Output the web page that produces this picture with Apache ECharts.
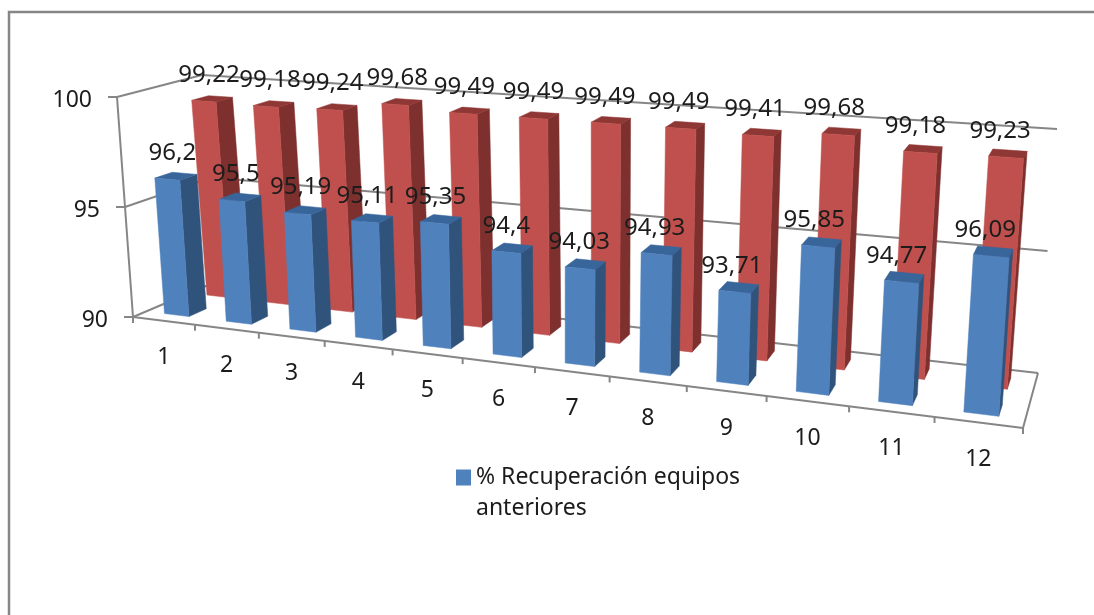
<!DOCTYPE html>
<html>
<head>
<meta charset="utf-8">
<style>html,body{margin:0;padding:0;background:#fff}#chart{width:1094px;height:615px}</style>
<script src="https://cdn.jsdelivr.net/npm/echarts@6/dist/echarts.min.js"></script>
</head>
<body>
<div id="chart"></div>
<script>
// Chart data
const categories = ['1','2','3','4','5','6','7','8','9','10','11','12'];
const recoveryPrevious = [96.2,95.5,95.19,95.11,95.35,94.4,94.03,94.93,93.71,95.85,94.77,96.09];
const recoveryCurrent = [99.22,99.18,99.24,99.68,99.49,99.49,99.49,99.49,99.41,99.68,99.18,99.23];
const valueTicks = [90,95,100];
const legendName = '% Recuperación equipos\nanteriores';

// Corners of the 3D box as seen by the camera
const box = {
  fl:[133,317], fr:[1023,428], bl:[220,280], br:[1038,373],
  tfl:[117,97], tfr:[1041,163], tbl:[202,75], tbr:[1057,129]
};
const COUNT = categories.length;
const FORESHORTEN = -0.0147, UNIT = 61.1;
const lerp = (a,b,t)=>a+(b-a)*t;
const lerp2 = (p,q,t)=>[lerp(p[0],q[0],t),lerp(p[1],q[1],t)];

// Perspective along the category direction, then trilinear across the box.
function project(u, v, w){
  const s = (UNIT*u/(1+FORESHORTEN*u))/(UNIT*COUNT/(1+FORESHORTEN*COUNT));
  const floor = lerp2(lerp2(box.fl,box.fr,s),lerp2(box.bl,box.br,s),w);
  const top = lerp2(lerp2(box.tfl,box.tfr,s),lerp2(box.tbl,box.tbr,s),w);
  return lerp2(floor,top,v);
}

// Scale a data point through the grid's axes into box units.
function toBox(params, api, x, y){
  const sys = params.coordSys;
  const p = api.coord([x,y]);
  return {u:(p[0]-sys.x)/sys.width*COUNT, v:(sys.y+sys.height-p[1])/sys.height};
}

const GRID_LINE = {stroke:'#868686', lineWidth:2, fill:null};
const TEXT_COLOR = '#1c1c1c';
const FONT = '"Noto Sans"';
const seg = (a,b)=>({type:'line',shape:{x1:a[0],y1:a[1],x2:b[0],y2:b[1]},style:GRID_LINE});
const poly = (pts,fill)=>({type:'polygon',shape:{points:pts},style:{fill,stroke:fill,lineWidth:0.5}});

function renderGrid(params, api){
  const v = toBox(params, api, 0, api.value(1)).v;
  const fl = project(0,v,0), bl = project(0,v,1), br = project(COUNT,v,1);
  const children = [seg(fl,bl), seg(bl,br), seg(fl,[fl[0]-9,fl[1]])];
  if (params.dataIndex===0) {
    children.push(seg(project(0,0,0),project(0,1,0)));
    children.push(seg(project(0,0,0),project(COUNT,0,0)));
    children.push(seg(project(COUNT,0,0),project(COUNT,0,1)));
  }
  children.push({type:'text',style:{text:String(api.value(1)),x:fl[0]-25,y:fl[1]+3,
    font:'23px '+FONT,fill:TEXT_COLOR,align:'right',verticalAlign:'middle'}});
  return {type:'group',children};
}

function renderCategory(params, api){
  const b = toBox(params, api, api.value(0), 90);
  const half = api.size([1,0])[0]/params.coordSys.width*COUNT/2;
  const start = project(b.u-half,0,0), mid = project(b.u,0,0);
  const children = [seg(start,[start[0],start[1]+6]),
    {type:'text',style:{text:categories[params.dataIndex],x:mid[0],y:mid[1]+37,
      font:'23px '+FONT,fill:TEXT_COLOR,align:'center',verticalAlign:'middle'}}];
  if (params.dataIndex===COUNT-1) {
    const end = project(b.u+half,0,0);
    children.push(seg(end,[end[0],end[1]+6]));
  }
  return {type:'group',children};
}

// One prism: side, top and front faces plus the value label above it.
function barRenderer(w0, w1, colors){
  return function(params, api){
    const b = toBox(params, api, api.value(0), api.value(1));
    const u0 = b.u-0.2, u1 = b.u+0.2, v = b.v;
    const fbl=project(u0,0,w0), fbr=project(u1,0,w0), bbr=project(u1,0,w1);
    const ftl=project(u0,v,w0), ftr=project(u1,v,w0), btl=project(u0,v,w1), btr=project(u1,v,w1);
    const mid = lerp2(ftl,ftr,0.5);
    const dx = lerp(5.5,-6.5,b.u/COUNT);
    return {type:'group',children:[
      poly([fbr,bbr,btr,ftr],colors.side),
      poly([ftl,ftr,btr,btl],colors.top),
      poly([fbl,fbr,ftr,ftl],colors.front),
      {type:'text',z2:100,style:{text:String(api.value(1)).replace('.',','),x:mid[0]+dx,y:mid[1]-26,
        font:'24px '+FONT,fill:TEXT_COLOR,align:'center',verticalAlign:'middle'}}
    ]};
  };
}

const blue = {front:'#4F81BD',side:'#30537C',top:'#38659A'};
const red = {front:'#C0504D',side:'#7E302E',top:'#8E3734'};

const chart = echarts.init(document.getElementById('chart'),null,{renderer:'canvas'});
chart.setOption({
  animation:false,
  backgroundColor:'#ffffff',
  graphic:[
    {type:'rect',shape:{x:9,y:12,width:1200,height:800},style:{fill:null,stroke:'#868686',lineWidth:2.5},silent:true}
  ],
  legend:{
    data:[legendName],left:451,top:426,icon:'rect',itemWidth:15,itemHeight:16,itemGap:0,
    selectedMode:false,
    // A blank first line keeps the swatch level with the name's first line.
    formatter:name=>' \n'+name,
    textStyle:{fontFamily:'Noto Sans',fontSize:23,color:TEXT_COLOR,lineHeight:31}
  },
  grid:{left:133,top:97,width:890,height:220},
  xAxis:{type:'category',data:categories,show:false},
  yAxis:{type:'value',min:90,max:100,interval:5,show:false},
  series:[
    {type:'custom',name:'grid',silent:true,clip:false,encode:{x:0,y:1},
      data:valueTicks.map(t=>[categories[0],t]),renderItem:renderGrid},
    {type:'custom',name:'categories',silent:true,clip:false,encode:{x:0,y:1},
      data:categories.map(c=>[c,90]),renderItem:renderCategory},
    {type:'custom',name:'% Recuperación equipos actuales',clip:false,encode:{x:0,y:1},
      itemStyle:{color:red.front},
      data:recoveryCurrent.map((v,i)=>[categories[i],v]),renderItem:barRenderer(0.65,0.85,red)},
    {type:'custom',name:legendName,clip:false,encode:{x:0,y:1},
      itemStyle:{color:blue.front},
      data:recoveryPrevious.map((v,i)=>[categories[i],v]),renderItem:barRenderer(0.153,0.36,blue)}
  ]
});
</script>
</body>
</html>
